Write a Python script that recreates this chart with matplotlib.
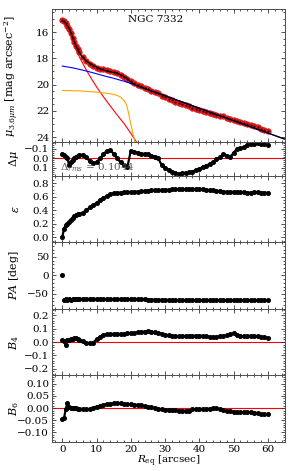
import matplotlib
matplotlib.use("Agg")
import matplotlib.pyplot as plt
from matplotlib.ticker import MultipleLocator

plt.rcParams['font.family'] = ['DejaVu Serif']
plt.rcParams['mathtext.fontset'] = 'dejavuserif'

# ---------------- data ----------------
R = [0, 0.5, 1, 1.5, 2, 2.5, 3, 3.5, 4, 4.5, 5,
     6, 7, 8, 9, 10, 11, 12, 13, 14, 15, 16, 17, 18, 19, 20,
     21, 22, 23, 24, 25, 26, 27, 28, 29, 30, 31, 32, 33, 34, 35,
     36, 37, 38, 39, 40, 41, 42, 43, 44, 45, 46, 47, 48, 49, 50,
     51, 52, 53, 54, 55, 56, 57, 58, 59, 60]

mu_obs = [15.10, 15.18, 15.32, 15.52, 15.78, 16.08, 16.42, 16.76, 17.06, 17.32, 17.55,
          17.92, 18.18, 18.40, 18.57, 18.70, 18.79, 18.85, 18.90, 18.95, 19.02, 19.12, 19.27, 19.44, 19.60, 19.76,
          19.90, 20.03, 20.14, 20.24, 20.34, 20.45, 20.55, 20.67, 20.83, 20.95, 21.07, 21.18, 21.29, 21.39, 21.47,
          21.57, 21.66, 21.75, 21.82, 21.91, 21.98, 22.07, 22.14, 22.22, 22.28, 22.35, 22.41, 22.52, 22.64, 22.68,
          22.73, 22.82, 22.90, 22.98, 23.06, 23.15, 23.24, 23.34, 23.44, 23.54]

dmu = [-0.047, -0.04, -0.02, 0.0, 0.07, 0.04, 0.02, 0.0, -0.02, -0.03, -0.035,
       -0.04, -0.01, 0.03, 0.05, 0.04, 0.0, -0.045, -0.08, -0.085, -0.05, 0.0, 0.04, 0.065, 0.09, -0.08,
       -0.07, -0.06, -0.05, -0.047, -0.045, -0.03, -0.02, 0.0, 0.07, 0.10, 0.12, 0.14, 0.15, 0.16, 0.155,
       0.15, 0.145, 0.14, 0.12, 0.11, 0.09, 0.075, 0.06, 0.04, 0.01, -0.012, -0.047, -0.03, -0.012, -0.06,
       -0.10, -0.11, -0.12, -0.14, -0.15, -0.155, -0.16, -0.155, -0.15, -0.14]

eps = [0.0, 0.13, 0.18, 0.20, 0.23, 0.26, 0.29, 0.31, 0.33, 0.34, 0.35,
       0.365, 0.40, 0.44, 0.47, 0.51, 0.545, 0.58, 0.61, 0.635, 0.65, 0.655, 0.66, 0.662, 0.665, 0.668,
       0.67, 0.675, 0.68, 0.683, 0.686, 0.69, 0.693, 0.695, 0.698, 0.70, 0.702, 0.705, 0.707, 0.71, 0.71,
       0.71, 0.712, 0.712, 0.71, 0.71, 0.705, 0.70, 0.695, 0.69, 0.685, 0.68, 0.675, 0.67, 0.67, 0.67,
       0.668, 0.665, 0.663, 0.66, 0.66, 0.662, 0.665, 0.66, 0.657, 0.655]

pa = [0.0, -66.5, -64.0, -67.0, -63.5, -65.5, -64.0, -63.5, -63.5, -63.4, -63.3,
      -63.2, -63.2, -63.3, -63.4, -63.5, -63.6, -63.7, -63.8, -63.9, -64.0, -64.1, -64.2, -64.3, -64.4, -64.5,
      -64.6, -64.7, -64.8, -64.9, -65.0, -65.2, -65.4, -65.6, -65.8, -66.0, -66.2, -66.4, -66.5, -66.6, -66.7,
      -66.8, -66.8, -66.9, -66.9, -67.0, -67.0, -67.0, -67.0, -67.0, -67.0, -67.1, -67.1, -67.1, -67.2, -67.2,
      -67.2, -67.2, -67.1, -67.1, -67.1, -67.0, -67.0, -67.0, -67.0, -67.0]

b4 = [0.012, 0.01, -0.02, 0.015, 0.015, 0.02, 0.022, 0.027, 0.03, 0.025, 0.015,
      0.005, -0.005, -0.008, -0.004, 0.02, 0.04, 0.055, 0.058, 0.06, 0.06, 0.061, 0.062, 0.063, 0.065, 0.067,
      0.068, 0.072, 0.076, 0.079, 0.08, 0.078, 0.074, 0.068, 0.062, 0.056, 0.05, 0.046, 0.043, 0.042, 0.044,
      0.046, 0.047, 0.047, 0.047, 0.047, 0.046, 0.043, 0.04, 0.037, 0.038, 0.042, 0.046, 0.05, 0.06, 0.065,
      0.055, 0.042, 0.043, 0.045, 0.047, 0.046, 0.043, 0.04, 0.035, 0.03]

b6 = [-0.047, -0.042, -0.005, 0.022, 0.003, 0.0, -0.001, 0.0, -0.001, -0.002, -0.003,
      -0.004, -0.005, -0.004, 0.002, 0.006, 0.01, 0.013, 0.016, 0.018, 0.019, 0.019, 0.019, 0.017, 0.016, 0.015,
      0.014, 0.013, 0.011, 0.008, 0.006, 0.003, 0.0, -0.003, -0.005, -0.006, -0.007, -0.008, -0.009, -0.01, -0.011,
      -0.011, -0.01, -0.005, -0.004, -0.004, -0.004, -0.004, -0.002, -0.001, -0.001, -0.004, -0.008, -0.011, -0.014, -0.016,
      -0.018, -0.018, -0.018, -0.018, -0.018, -0.019, -0.021, -0.024, -0.026, -0.024]

# model components
R_tot = [0, 0.5, 1, 1.5, 2, 2.5, 3, 3.5, 4, 5, 6, 7, 8, 9, 10, 12, 14, 16, 18, 19, 20, 21, 22,
         24, 26, 28, 30, 35, 40, 45, 50, 55, 60, 65]
mu_tot = [15.15, 15.23, 15.34, 15.52, 15.71, 16.04, 16.40, 16.76, 17.08, 17.59, 17.96, 18.19, 18.37,
          18.52, 18.66, 18.90, 19.03, 19.12, 19.38, 19.52, 19.82, 19.98, 20.10,
          20.29, 20.48, 20.67, 20.85, 21.32, 21.80, 22.27, 22.74, 23.21, 23.68, 24.15]

R_disk = [0, 3, 6, 9, 12, 15, 18, 20, 22, 24, 26, 28, 30, 35, 40, 45, 50, 55, 60, 65]
mu_disk = [18.59, 18.72, 18.90, 19.10, 19.32, 19.52, 19.74, 19.90, 20.10, 20.29, 20.48, 20.67,
           20.85, 21.32, 21.80, 22.27, 22.74, 23.21, 23.68, 24.15]

R_bar = [0, 5, 10, 13, 15, 16, 17, 18, 18.7, 19.3, 19.8, 20.3, 20.8, 21.3, 21.6]
mu_bar = [20.44, 20.48, 20.57, 20.66, 20.74, 20.82, 20.95, 21.20, 21.50, 22.10, 22.75, 23.36, 23.90, 24.50, 24.90]

R_bulge = [0, 1, 2, 3, 4, 5, 6, 7, 8, 9, 10, 12, 14, 16, 18, 20, 21, 22]
mu_bulge = [15.10, 15.45, 16.00, 16.65, 17.30, 17.90, 18.40, 18.88, 19.33, 19.76, 20.17, 20.92,
            21.62, 22.30, 22.95, 23.70, 24.10, 24.50]

galaxy = "NGC 7332"
rms_text = r"$\Delta_{rms}$ = 0.1044"

# ---------------- figure ----------------
fig = plt.figure(figsize=(2.93, 4.71), dpi=100)
gs = fig.add_gridspec(6, 1, height_ratios=[2, 0.5, 1, 1, 1, 1], hspace=0,
                      left=52/293, right=285/293, top=1-9/471, bottom=1-442/471)
axes = [fig.add_subplot(gs[i]) for i in range(6)]
for a in axes[1:]:
    a.sharex(axes[0])

fs = 7.5
for a in axes:
    a.set_xlim(-3, 65)
    a.xaxis.set_major_locator(MultipleLocator(10))
    a.xaxis.set_minor_locator(MultipleLocator(2))
    a.tick_params(which='both', direction='in', top=True, right=True, labelsize=fs,
                  width=0.6, colors='0.2', labelcolor='black', pad=2)
    a.tick_params(which='major', length=3)
    a.tick_params(which='minor', length=1.5)
    for s in a.spines.values():
        s.set_linewidth(0.7)
        s.set_color('0.3')
    if a is not axes[-1]:
        a.tick_params(labelbottom=False)

# top panel
ax = axes[0]
ax.plot(R, mu_obs, 'o', color='#e8191a', ms=4.0, mec='#d01010', mew=0.4, zorder=2)
ax.plot(R, mu_obs, 'o', color='#3a0000', ms=1.6, mew=0, zorder=2.5)
ax.plot(R_bulge, mu_bulge, '-', color='red', lw=0.8, zorder=3)
ax.plot(R_bar, mu_bar, '-', color='orange', lw=0.8, zorder=3)
ax.plot(R_disk, mu_disk, '-', color='blue', lw=0.8, zorder=3)
ax.plot(R_tot, mu_tot, '-', color='black', lw=0.9, zorder=4)
ax.set_ylim(24.38, 14.25)
ax.yaxis.set_major_locator(MultipleLocator(2))
ax.yaxis.set_minor_locator(MultipleLocator(0.5))
ax.set_ylabel(r"$\mu_{3.6\mu m}$ [mag arcsec$^{-2}$]", fontsize=fs + 0.5)
ax.text(0.445, 0.92, galaxy, transform=ax.transAxes, ha='center', va='center', fontsize=fs)

# residual
ax = axes[1]
ax.axhline(0, color='red', lw=0.8, zorder=1)
ax.plot(R, dmu, 'o-', color='black', ms=2.6, lw=1.6, zorder=2)
ax.set_ylim(0.18, -0.17)
ax.yaxis.set_major_locator(MultipleLocator(0.1))
ax.yaxis.set_minor_locator(MultipleLocator(0.02))
ax.set_ylabel(r"$\Delta\mu$", fontsize=fs + 0.5)
ax.text(0.035, 0.04, rms_text, transform=ax.transAxes, ha='left', va='bottom',
        fontsize=fs, color='0.35', zorder=5)

# ellipticity
ax = axes[2]
ax.plot(R, eps, 'o-', color='black', ms=2.6, lw=1.6)
ax.set_ylim(-0.07, 0.91)
ax.yaxis.set_major_locator(MultipleLocator(0.2))
ax.yaxis.set_minor_locator(MultipleLocator(0.05))
ax.set_ylabel(r"$\epsilon$", fontsize=fs + 0.5)

# PA
ax = axes[3]
ax.plot(R[:1], pa[:1], 'o', color='black', ms=2.6)
ax.plot(R[1:], pa[1:], 'o-', color='black', ms=2.6, lw=1.6)
ax.set_ylim(-90, 90)
ax.yaxis.set_major_locator(MultipleLocator(50))
ax.yaxis.set_minor_locator(MultipleLocator(10))
ax.set_ylabel(r"$PA$ [deg]", fontsize=fs + 0.5)

# B4
ax = axes[4]
ax.axhline(0, color='red', lw=0.8, zorder=1)
ax.plot(R, b4, 'o-', color='black', ms=2.6, lw=1.6, zorder=2)
ax.set_ylim(-0.25, 0.25)
ax.yaxis.set_major_locator(MultipleLocator(0.1))
ax.yaxis.set_minor_locator(MultipleLocator(0.02))
ax.set_ylabel(r"$B_4$", fontsize=fs + 0.5)

# B6
ax = axes[5]
ax.axhline(0, color='red', lw=0.8, zorder=1)
ax.plot(R, b6, 'o-', color='black', ms=2.6, lw=1.6, zorder=2)
ax.set_ylim(-0.14, 0.135)
ax.yaxis.set_major_locator(MultipleLocator(0.05))
ax.yaxis.set_minor_locator(MultipleLocator(0.01))
ax.set_ylabel(r"$B_6$", fontsize=fs + 0.5)
ax.set_xlabel(r"$R_{\rm eq}$ [arcsec]", fontsize=fs, labelpad=0)

for a in axes:
    a.yaxis.set_label_coords(-0.135, 0.5)

fig.savefig("out.png", dpi=100)
